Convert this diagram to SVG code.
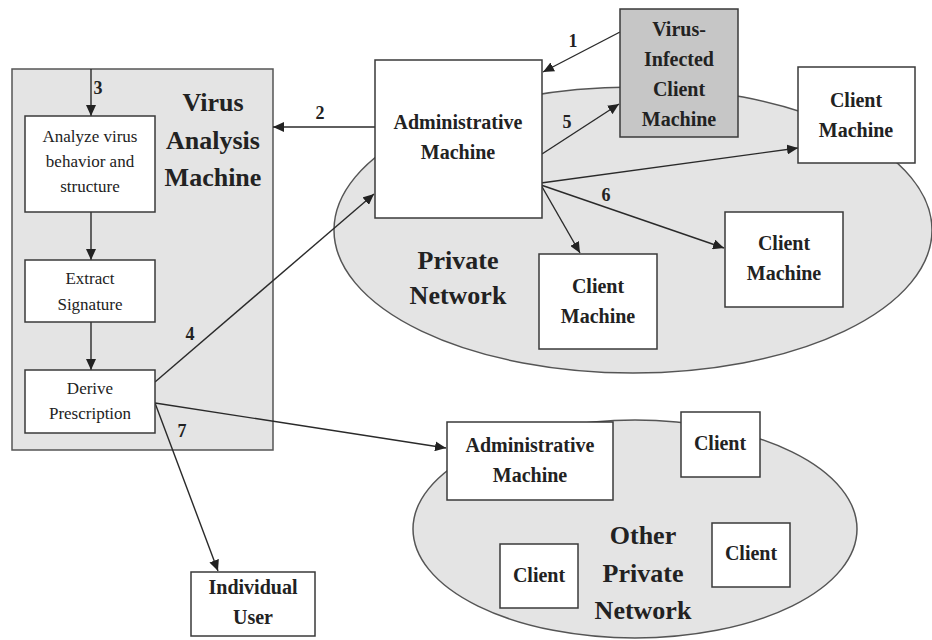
<svg xmlns="http://www.w3.org/2000/svg" width="932" height="640" viewBox="0 0 932 640">
<style>
.box{fill:#ffffff;stroke:#3a3a3a;stroke-width:1.5}
.bg{fill:#e4e4e4;stroke:#555;stroke-width:1.5}
.inf{fill:#c6c6c6;stroke:#3a3a3a;stroke-width:1.5}
.t{font-family:"Liberation Serif","Times New Roman",serif;font-weight:bold;font-size:20px;fill:#222;text-anchor:middle}
.s{font-family:"Liberation Serif","Times New Roman",serif;font-size:17px;fill:#222;text-anchor:middle}
.big{font-family:"Liberation Serif","Times New Roman",serif;font-weight:bold;font-size:26px;fill:#222;text-anchor:middle}
.n{font-family:"Liberation Serif","Times New Roman",serif;font-weight:bold;font-size:18px;fill:#222;text-anchor:middle}
.c line{stroke:#2a2a2a;stroke-width:1.4;marker-end:url(#ah)}
</style>
<defs>
<marker id="ah" markerUnits="userSpaceOnUse" markerWidth="12" markerHeight="10" refX="11" refY="5" orient="auto">
<path d="M0,0 L11,5 L0,10 z" fill="#222"/>
</marker>
</defs>
<rect width="932" height="640" fill="#ffffff"/>
<g id="virus-analysis-machine">
<rect class="bg" x="12" y="69" width="261" height="381"/>
<text class="big" x="213" y="111">Virus</text>
<text class="big" x="213" y="149">Analysis</text>
<text class="big" x="213" y="186">Machine</text>
</g>
<g id="private-network">
<ellipse class="bg" cx="633" cy="230" rx="299" ry="143"/>
<text class="big" x="458" y="269">Private</text>
<text class="big" x="458" y="304">Network</text>
</g>
<g id="other-private-network">
<ellipse class="bg" cx="635" cy="529" rx="222" ry="109"/>
<text class="big" x="643" y="544">Other</text>
<text class="big" x="643" y="582">Private</text>
<text class="big" x="643" y="619">Network</text>
</g>
<g id="connectors" class="c">
<line x1="620" y1="32" x2="543" y2="72"/>
<line x1="375" y1="127" x2="273" y2="127"/>
<line x1="91" y1="69" x2="91" y2="116"/>
<line x1="91" y1="212" x2="91" y2="260"/>
<line x1="91" y1="322" x2="91" y2="370"/>
<line x1="155" y1="382" x2="374" y2="194"/>
<line x1="542" y1="154" x2="619" y2="104"/>
<line x1="541" y1="183" x2="798" y2="148"/>
<line x1="541" y1="185" x2="724" y2="248"/>
<line x1="541" y1="185" x2="580" y2="253"/>
<line x1="155" y1="403" x2="446" y2="448"/>
<line x1="155" y1="403" x2="218" y2="571"/>
</g>
<g id="labels">
<text class="n" x="573" y="47">1</text>
<text class="n" x="320" y="119">2</text>
<text class="n" x="98" y="94">3</text>
<text class="n" x="190" y="340">4</text>
<text class="n" x="567" y="128">5</text>
<text class="n" x="606" y="201">6</text>
<text class="n" x="182" y="437">7</text>
</g>
<g id="analyze">
<rect class="box" x="25" y="116" width="130" height="96"/>
<text class="s" x="90" y="142">Analyze virus</text>
<text class="s" x="90" y="167">behavior and</text>
<text class="s" x="90" y="192">structure</text>
</g>
<g id="extract">
<rect class="box" x="25" y="260" width="130" height="62"/>
<text class="s" x="90" y="284">Extract</text>
<text class="s" x="90" y="310">Signature</text>
</g>
<g id="derive">
<rect class="box" x="25" y="370" width="130" height="63"/>
<text class="s" x="90" y="394">Derive</text>
<text class="s" x="90" y="419">Prescription</text>
</g>
<g id="admin-machine">
<rect class="box" x="375" y="60" width="167" height="158"/>
<text class="t" x="458" y="129">Administrative</text>
<text class="t" x="458" y="159">Machine</text>
</g>
<g id="infected-client">
<rect class="inf" x="620" y="9" width="118" height="128"/>
<text class="t" x="679" y="36">Virus-</text>
<text class="t" x="679" y="66">Infected</text>
<text class="t" x="679" y="96">Client</text>
<text class="t" x="679" y="126">Machine</text>
</g>
<g id="client-top-right">
<rect class="box" x="798" y="67" width="117" height="96"/>
<text class="t" x="856" y="107">Client</text>
<text class="t" x="856" y="137">Machine</text>
</g>
<g id="client-mid-right">
<rect class="box" x="725" y="212" width="118" height="95"/>
<text class="t" x="784" y="250">Client</text>
<text class="t" x="784" y="280">Machine</text>
</g>
<g id="client-lower">
<rect class="box" x="539" y="254" width="118" height="95"/>
<text class="t" x="598" y="293">Client</text>
<text class="t" x="598" y="323">Machine</text>
</g>
<g id="admin-machine-2">
<rect class="box" x="447" y="422" width="166" height="78"/>
<text class="t" x="530" y="452">Administrative</text>
<text class="t" x="530" y="482">Machine</text>
</g>
<g id="other-client-top">
<rect class="box" x="681" y="412" width="79" height="65"/>
<text class="t" x="720" y="450">Client</text>
</g>
<g id="other-client-right">
<rect class="box" x="712" y="523" width="78" height="64"/>
<text class="t" x="751" y="560">Client</text>
</g>
<g id="other-client-left">
<rect class="box" x="500" y="544" width="78" height="64"/>
<text class="t" x="539" y="582">Client</text>
</g>
<g id="individual-user">
<rect class="box" x="191" y="572" width="124" height="64"/>
<text class="t" x="253" y="594">Individual</text>
<text class="t" x="253" y="624">User</text>
</g>
</svg>
